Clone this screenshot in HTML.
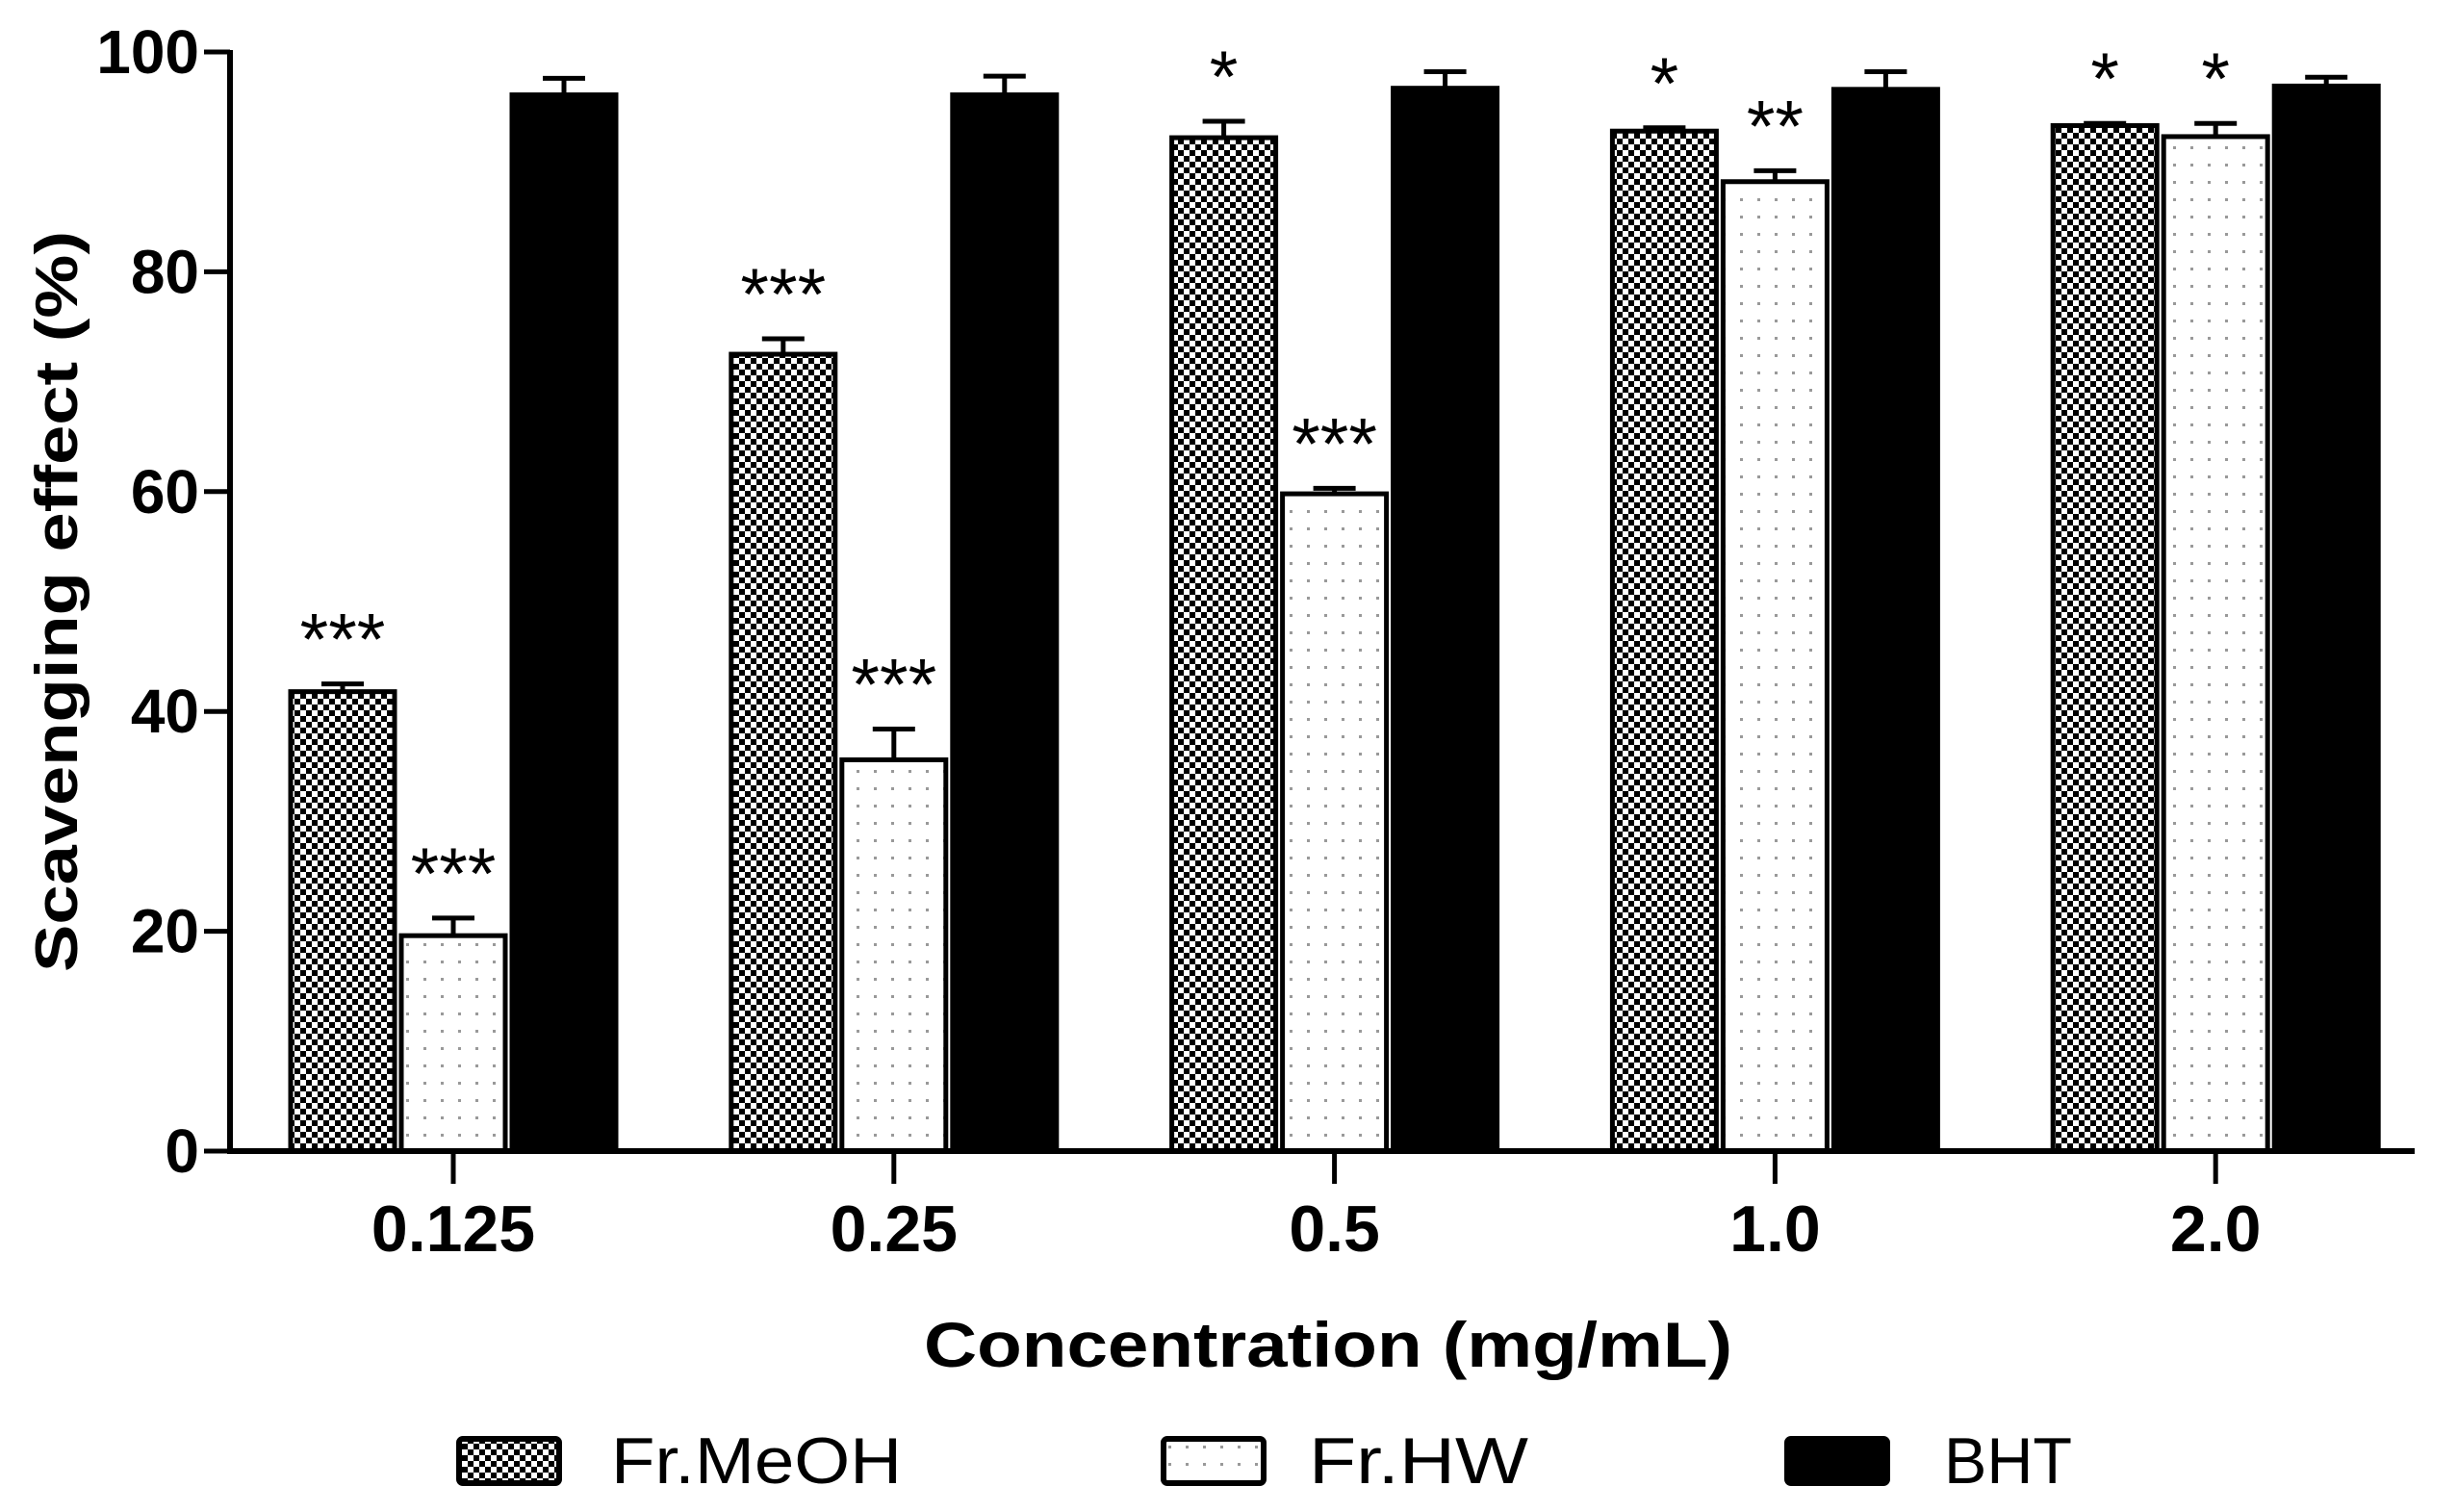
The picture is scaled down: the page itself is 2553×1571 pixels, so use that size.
<!DOCTYPE html>
<html><head><meta charset="utf-8"><style>
html,body{margin:0;padding:0;background:#fff;}
svg{display:block;font-family:"Liberation Sans",Arial,sans-serif;}
</style></head><body>
<svg id="chart" width="2553" height="1571" viewBox="0 0 2553 1571" xmlns="http://www.w3.org/2000/svg">
<defs>
<pattern id="checker" width="12" height="12" patternUnits="userSpaceOnUse">
<rect width="12" height="12" fill="#fff"/><rect width="6" height="6" fill="#000"/><rect x="6" y="6" width="6" height="6" fill="#000"/>
</pattern>
<pattern id="dots" width="18" height="18" patternUnits="userSpaceOnUse">
<rect width="18" height="18" fill="#fff"/><rect x="8" y="8" width="3" height="3" fill="#999"/>
</pattern>
</defs>
<g id="plot"></g>
</svg>
<script>
const categories = ["0.125","0.25","0.5","1.0","2.0"];
const meohValues = [41.8,72.5,92.2,92.8,93.3];
const meohErrors = [0.7,1.4,1.5,0.3,0.2];
const hwValues = [19.6,35.6,59.8,88.2,92.3];
const hwErrors = [1.6,2.8,0.5,1.0,1.2];
const bhtValues = [96.1,96.1,96.7,96.6,96.9];
const bhtErrors = [1.5,1.7,1.5,1.6,0.8];
const meohStars = ["***","***","*","*","*"];
const hwStars = ["***","***","***","**","*"];
const bhtStars = ["","","","",""];
const yTicks = [0,20,40,60,80,100];
const seriesNames = ["Fr.MeOH","Fr.HW","BHT"];

const NS="http://www.w3.org/2000/svg";
const g=document.getElementById('plot');
const X0=239, X1=2509, Y0=1196, Y100=54;
const y=v=>Y0-(v/100)*(Y0-Y100);
const groupW=457.8, firstC=471;
const xc=i=>firstC+i*groupW;
function mk(tag,attrs,parent){const e=document.createElementNS(NS,tag);for(const k in attrs)e.setAttribute(k,attrs[k]);(parent||g).appendChild(e);return e;}

const series=[
 {v:meohValues,e:meohErrors,s:meohStars,fill:"url(#checker)",key:"meoh"},
 {v:hwValues,e:hwErrors,s:hwStars,fill:"url(#dots)",key:"hw"},
 {v:bhtValues,e:bhtErrors,s:bhtStars,fill:"#000",key:"bht"}];
const bw=108, off=[-115,0,115];

series.forEach((se,si)=>{
 categories.forEach((c,i)=>{
  const cx=xc(i)+off[si], top=y(se.v[i]);
  const r=mk('rect',{x:cx-bw/2,y:top,width:bw,height:Y0-top,fill:se.fill,stroke:"#000","stroke-width":5});
  
  
  const et=y(se.v[i]+se.e[i]);
  const el=mk('path',{d:`M${cx},${top} V${et} M${cx-22},${et} H${cx+22}`,stroke:"#000","stroke-width":5,fill:"none"});
  
  
  if(se.s[i]){
   const t=mk('text',{x:cx,y:et-20,"text-anchor":"middle","font-size":76,fill:"#000"});
   t.textContent=se.s[i];
   
   
  }
 });
});

const ax=mk('path',{d:`M${X0},${Y100-2} V${Y0} H${X1}`,stroke:"#000","stroke-width":6,fill:"none"});


yTicks.forEach(t=>{
 const yy=y(t);
 const tk=mk('line',{x1:X0-27,x2:X0,y1:yy,y2:yy,stroke:"#000","stroke-width":5});
 
 
 const l=mk('text',{x:X0-32,y:yy+22,"text-anchor":"end","font-size":64,"font-weight":"bold"});
 l.textContent=t;
 
 
});
categories.forEach((c,i)=>{
 const tk=mk('line',{x1:xc(i),x2:xc(i),y1:Y0,y2:Y0+34,stroke:"#000","stroke-width":5});
 
 
 const l=mk('text',{x:xc(i),y:Y0+104,"text-anchor":"middle","font-size":68,"font-weight":"bold"});
 l.textContent=c;
 
 
});
const yt=mk('text',{transform:"translate(80,625) rotate(-90)","text-anchor":"middle","font-size":62,"font-weight":"bold",textLength:770,lengthAdjust:"spacingAndGlyphs"});
yt.textContent="Scavenging effect (%)";


const xt=mk('text',{x:1380,y:1420,"text-anchor":"middle","font-size":66,"font-weight":"bold",textLength:840,lengthAdjust:"spacingAndGlyphs"});
xt.textContent="Concentration (mg/mL)";



const lx=[477,1209,1857], tx=[635,1360,2020], tl=[302,228,133];
series.forEach((se,si)=>{
 const sw=mk('rect',{x:lx[si],y:1495,width:104,height:46,fill:se.fill,stroke:"#000","stroke-width":6,rx:4});
 
 
 const t=mk('text',{x:tx[si],y:1541,"font-size":68,textLength:tl[si],lengthAdjust:"spacingAndGlyphs"});
 t.textContent=seriesNames[si];
 
 
});
</script>
</body></html>
